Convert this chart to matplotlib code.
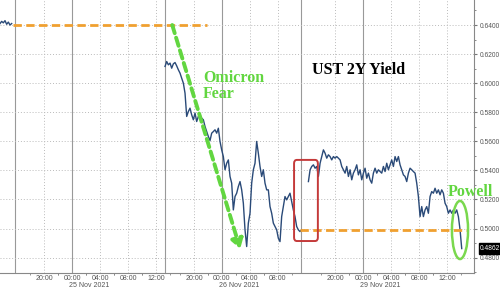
import matplotlib.pyplot as plt
import numpy as np
from matplotlib.patches import Ellipse, FancyBboxPatch

# x axis is trading time in hours, with the closed periods cut out
tick_pos = [6.29, 10.29, 14.29, 18.29, 22.29, 27.7, 31.7, 35.7, 39.7, 47.9, 51.9, 55.9, 59.9, 63.9]
tick_lab = ['20:00', '00:00', '04:00', '08:00', '12:00', '20:00', '00:00', '04:00', '08:00',
            '20:00', '00:00', '04:00', '08:00', '12:00']
midnights = [10.29, 31.7, 51.9]
date_lab = ['25 Nov 2021', '26 Nov 2021', '29 Nov 2021']
breaks = [2.14, 23.57, 43.0]

step = 0.238
# 24 Nov close
s1_start = 0.0
s1 = [0.6410, 0.6425, 0.6415, 0.6430, 0.6405, 0.6420, 0.6400, 0.6410]
# 25/26 Nov session
s2_start = 23.57
s2 = [0.6115, 0.6149, 0.6126, 0.6138, 0.6103, 0.6133, 0.6142, 0.6119, 0.6092, 0.6069,
      0.6034, 0.6000, 0.5931, 0.5771, 0.5805, 0.5828, 0.5782, 0.5748, 0.5794, 0.5736,
      0.5771, 0.5782, 0.5759, 0.5748, 0.5702, 0.5667, 0.5633, 0.5605, 0.5656, 0.5667,
      0.5679, 0.5656, 0.5690, 0.5599, 0.5541, 0.5495, 0.5404, 0.5449, 0.5472, 0.5358,
      0.5312, 0.5128, 0.5220, 0.5243, 0.5289, 0.5323, 0.5266, 0.5174, 0.4991, 0.4876,
      0.5037, 0.5105, 0.5312, 0.5404, 0.5449, 0.5599, 0.5518, 0.5427, 0.5358, 0.5404,
      0.5312, 0.5266, 0.5266, 0.5151, 0.5105, 0.5037, 0.5014, 0.4991, 0.4933, 0.4910,
      0.5082, 0.5151, 0.5220, 0.5197, 0.5220, 0.5243, 0.5186, 0.5128, 0.5082, 0.5014,
      0.4991, 0.4979, 0.4991]
# 28/29 Nov session
s3_start = 44.05
s3 = [0.5323, 0.5404, 0.5427, 0.5438, 0.5415, 0.5427, 0.5358, 0.5449, 0.5495, 0.5541,
      0.5518, 0.5484, 0.5507, 0.5495, 0.5472, 0.5495, 0.5484, 0.5495, 0.5484, 0.5472,
      0.5427, 0.5404, 0.5381, 0.5427, 0.5358, 0.5404, 0.5335, 0.5381, 0.5404, 0.5438,
      0.5369, 0.5404, 0.5335, 0.5381, 0.5415, 0.5346, 0.5381, 0.5335, 0.5312, 0.5381,
      0.5415, 0.5381, 0.5404, 0.5392, 0.5381, 0.5427, 0.5392, 0.5449, 0.5404, 0.5438,
      0.5472, 0.5427, 0.5495, 0.5461, 0.5495, 0.5438, 0.5404, 0.5369, 0.5358, 0.5323,
      0.5381, 0.5415, 0.5404, 0.5392, 0.5381, 0.5312, 0.5220, 0.5082, 0.5151, 0.5082,
      0.5128, 0.5151, 0.5105, 0.5220, 0.5254, 0.5243, 0.5277, 0.5243, 0.5266, 0.5232,
      0.5266, 0.5243, 0.5174, 0.5151, 0.5105, 0.5128, 0.5105, 0.5128, 0.5105, 0.5128,
      0.5082, 0.4991, 0.4862]
last_val = 0.4862

green = '#62d640'
orange = '#f0a030'
txt = '#555555'

fig = plt.figure(figsize=(5, 2.88), dpi=100)
ax = fig.add_axes([0.0, 0.0531, 0.948, 0.961])
ax.set_xlim(0, 67.7)
ax.set_ylim(0.4696, 0.66)

# grid
ax.set_yticks(np.arange(0.48, 0.6601, 0.02))
ax.set_yticks(np.arange(0.47, 0.66, 0.02), minor=True)
ax.yaxis.grid(True, which='major', linestyle=(0, (1, 2)), color='#bbbbbb', lw=0.7)
for p in tick_pos:
    if p not in midnights:
        ax.axvline(p, color='#bbbbbb', linestyle=(0, (1, 2)), lw=0.7, zorder=0)
for p in midnights + breaks:
    ax.axvline(p, color='#999999', lw=0.8, zorder=0)

# series
for start, vals in [(s1_start, s1), (s2_start, s2), (s3_start, s3)]:
    t = start + step * np.arange(len(vals))
    ax.plot(t, vals, color='#2a4a78', lw=1.0, zorder=3)

# axes styling
for side in ['left', 'top']:
    ax.spines[side].set_visible(False)
ax.spines['right'].set_color('#888888')
ax.spines['bottom'].set_color('#888888')
ax.yaxis.tick_right()
ax.yaxis.set_major_formatter(plt.FormatStrFormatter('%.4f'))
ax.tick_params(axis='y', which='major', length=2.5, pad=1.5, labelsize=4.8,
               labelcolor=txt, color='#777777')
ax.tick_params(axis='y', which='minor', length=1.5, color='#777777')
ax.set_xticks(tick_pos)
ax.set_xticklabels(tick_lab)
ax.set_xticks([p + 2 for p in tick_pos] + [p - 2 for p in tick_pos], minor=True)
ax.tick_params(axis='x', which='major', length=0, pad=1.5, labelsize=5.0, labelcolor=txt)
ax.tick_params(axis='x', which='minor', length=1.5, color='#888888')
for fam_lab in ax.get_xticklabels() + ax.get_yticklabels():
    fam_lab.set_family('Liberation Sans')
for p, lab in zip(midnights, date_lab):
    ax.text(p + 2.4, -0.045, lab, transform=ax.get_xaxis_transform(), ha='center',
            va='center', fontsize=5.0, color=txt, family='Liberation Sans', clip_on=False)

# last value box
ax.annotate('%.4f' % last_val, xy=(1.0, last_val), xycoords=('axes fraction', 'data'),
            xytext=(4.5, 0), textcoords='offset points', ha='left', va='center',
            fontsize=4.8, color='white', family='Liberation Sans',
            bbox=dict(boxstyle='square,pad=0.25', fc='black', ec='black'))

# annotations
ax.plot([1.8, 29.5], [0.6400, 0.6400], color=orange, lw=2, linestyle=(0, (3, 1.6)), zorder=4)
ax.plot([42.9, 66.9], [0.4988, 0.4988], color=orange, lw=2, linestyle=(0, (3, 1.6)), zorder=4)
ax.annotate('', xy=(34.3, 0.4860), xytext=(24.6, 0.6400),
            arrowprops=dict(arrowstyle='-|>,head_length=0.55,head_width=0.35', color=green,
                            lw=2.8, linestyle=(0, (2.2, 1.2)), shrinkA=0, shrinkB=0), zorder=5)
ax.add_patch(FancyBboxPatch((42.0, 0.4914), 3.4, 0.0558, boxstyle='round,pad=0,rounding_size=0.4',
                            mutation_aspect=0.006, fill=False, ec='#c43a3a', lw=1.4, zorder=5))
ax.add_patch(Ellipse((65.7, 0.4990), 2.3, 0.040, fill=False, ec='#7ad84e', lw=1.8, zorder=5))

ax.text(44.6, 0.6092, 'UST 2Y Yield', fontsize=11.5, fontweight='bold', family='Liberation Serif',
        color='black', va='center', ha='left')
ax.text(29.0, 0.5981, 'Omicron\nFear', fontsize=11.5, fontweight='bold', family='Liberation Serif',
        color=green, va='center', ha='left', linespacing=1.05)
ax.text(64.0, 0.5252, 'Powell', fontsize=11.5, fontweight='bold', family='Liberation Serif',
        color=green, va='center', ha='left', clip_on=False)

fig.savefig('out.png', dpi=100)
